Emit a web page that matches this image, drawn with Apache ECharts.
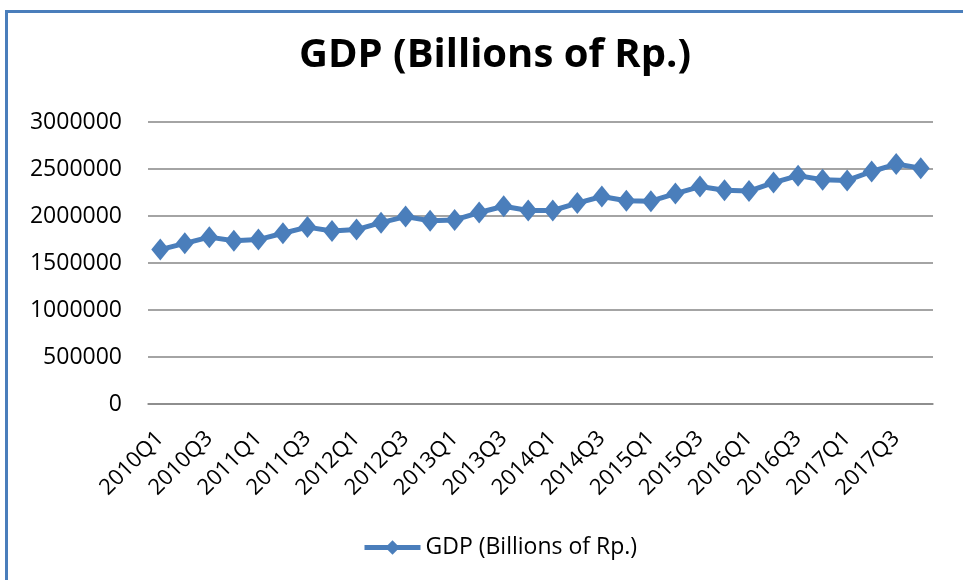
<!DOCTYPE html>
<html><head><meta charset="utf-8">
<script src="https://cdn.jsdelivr.net/npm/echarts@6/dist/echarts.min.js"></script>
<style>html,body{margin:0;padding:0;background:#fff}#c{width:963px;height:580px}</style>
</head><body><div id="c"></div>
<script>
const categories = ['2010Q1','2010Q2','2010Q3','2010Q4','2011Q1','2011Q2','2011Q3','2011Q4',
 '2012Q1','2012Q2','2012Q3','2012Q4','2013Q1','2013Q2','2013Q3','2013Q4',
 '2014Q1','2014Q2','2014Q3','2014Q4','2015Q1','2015Q2','2015Q3','2015Q4',
 '2016Q1','2016Q2','2016Q3','2016Q4','2017Q1','2017Q2','2017Q3','2017Q4'];
const gdp = [1642356,1709132,1775110,1737535,1748731,1816268,1881850,1840786,
 1855580,1929019,1993632,1948852,1958396,2036817,2103598,2057688,
 2058585,2137386,2207344,2161553,2158040,2238704,2312844,2272929,
 2264721,2355445,2429261,2385187,2378146,2473513,2552297,2508972];
const yTicks = [0,500000,1000000,1500000,2000000,2500000,3000000];
const seriesName = 'GDP (Billions of Rp.)';
const FONT = 'Open Sans';
const BLUE = '#4A7EBB';
const chart = echarts.init(document.getElementById('c'));
chart.setOption({
  animation:false,
  textStyle:{fontFamily:FONT},
  title:{text:'GDP (Billions of Rp.)',left:294,top:31,
    textStyle:{fontFamily:FONT,fontWeight:'bold',fontSize:40,color:'#000'}},
  graphic:[
    {type:'rect',shape:{x:5,y:10,width:958,height:3},style:{fill:BLUE}},
    {type:'rect',shape:{x:5,y:10,width:3,height:570},style:{fill:BLUE}}
  ],
  legend:{top:531,left:357,itemWidth:56,itemHeight:18,itemGap:4,
    lineStyle:{width:5},
    textStyle:{fontFamily:FONT,fontSize:23,color:'#000'},data:[seriesName]},
  grid:{left:148,right:30,top:122,bottom:176},
  xAxis:{type:'category',data:categories,boundaryGap:true,
    axisLine:{lineStyle:{color:'#868686',width:1.5}},
    axisTick:{show:false},
    axisLabel:{interval:1,rotate:45,fontFamily:FONT,fontSize:22,color:'#000',margin:31}},
  yAxis:{type:'value',min:yTicks[0],max:yTicks[yTicks.length-1],interval:500000,
    axisLine:{show:false},axisTick:{show:false},
    splitLine:{lineStyle:{color:'#868686',width:1.5}},
    axisLabel:{fontFamily:FONT,fontSize:23,color:'#000',margin:26,formatter:v=>String(v)}},
  series:[{name:seriesName,type:'line',data:gdp,symbol:'diamond',symbolSize:[18,22],showAllSymbol:true,
    lineStyle:{color:BLUE,width:5},itemStyle:{color:BLUE}}]
});
</script></body></html>
